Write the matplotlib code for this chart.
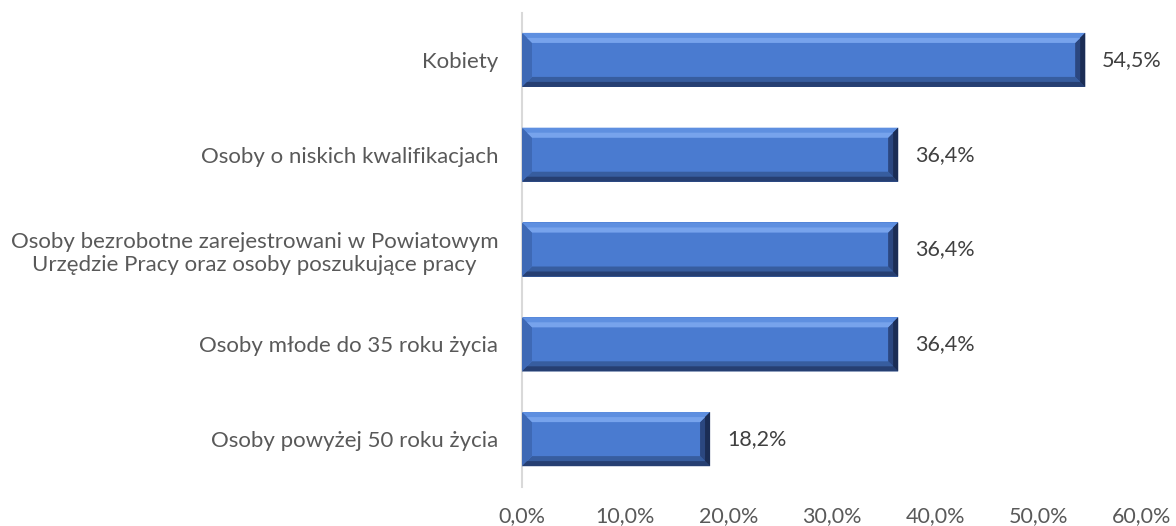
import matplotlib
matplotlib.use("Agg")
import matplotlib.pyplot as plt
from matplotlib.patches import Polygon

categories = [
    "Kobiety",
    "Osoby o niskich kwalifikacjach",
    "Osoby bezrobotne zarejestrowani w Powiatowym\nUrzędzie Pracy oraz osoby poszukujące pracy",
    "Osoby młode do 35 roku życia",
    "Osoby powyżej 50 roku życia",
]
values = [54.5, 36.4, 36.4, 36.4, 18.2]
xticks = [0, 10, 20, 30, 40, 50, 60]

plt.rcParams['font.family'] = ['Lato', 'DejaVu Sans']
W, H = 1176, 526
fig = plt.figure(figsize=(W / 100, H / 100), dpi=100)
left, right, top, bottom = 522, 1142, 12.5, 486.5
ax = fig.add_axes([left / W, (H - bottom) / H, (right - left) / W, (bottom - top) / H])

n = len(categories)
ypos = list(range(n - 1, -1, -1))
bh = 0.57
face = "#4a7bd0"
ax.barh(ypos, values, height=bh, color=face, edgecolor="none", zorder=2)

ax.set_xlim(0, 60)
ax.set_ylim(-0.5, n - 0.5)
dxp = 60 / (right - left)
dyp = n / (bottom - top)


def trap(pts, color, z=3):
    ax.add_patch(Polygon(pts, closed=True, facecolor=color, edgecolor="none", zorder=z))


for y, v in zip(ypos, values):
    y0, y1 = y - bh / 2, y + bh / 2
    x0, x1 = 0, v
    bx, by = 10 * dxp, 10 * dyp
    hx, hy = 5 * dxp, 5 * dyp
    # top bevel (light, two tones)
    trap([(x0, y1), (x1, y1), (x1 - bx, y1 - by), (x0 + bx, y1 - by)], "#5e8fe0")
    trap([(x0 + hx, y1 - hy), (x1 - hx, y1 - hy), (x1 - bx, y1 - by), (x0 + bx, y1 - by)], "#77a3ec", 3.1)
    # bottom bevel (dark, two tones)
    trap([(x0, y0), (x1, y0), (x1 - bx, y0 + by), (x0 + bx, y0 + by)], "#375d9f")
    trap([(x0, y0), (x1, y0), (x1 - hx, y0 + hy), (x0 + hx, y0 + hy)], "#263f72", 3.1)
    # left bevel
    trap([(x0, y0), (x0, y1), (x0 + bx, y1 - by), (x0 + bx, y0 + by)], "#3e69b5")
    # right bevel (darkest)
    trap([(x1, y0), (x1, y1), (x1 - bx, y1 - by), (x1 - bx, y0 + by)], "#2b4780")
    trap([(x1, y0), (x1, y1), (x1 - hx, y1 - hy), (x1 - hx, y0 + hy)], "#1b2d55", 3.1)
    ax.annotate(f"{v:.1f}%".replace(".", ","), xy=(v, y), xytext=(17, 0),
                textcoords="offset pixels",
                va="center", ha="left", fontsize=15.5, color="#404040")

ax.set_yticks(ypos)
ax.set_yticklabels(categories, fontsize=16, color="#595959")
ax.set_xticks(xticks)
ax.set_xticklabels([f"{t:.1f}%".replace(".", ",") for t in xticks], fontsize=15.5, color="#595959")
ax.tick_params(axis="both", length=0)
ax.tick_params(axis="x", pad=14)
ax.tick_params(axis="y", pad=17)
for lbl in ax.get_yticklabels():
    lbl.set_multialignment("center")

for s in ["top", "right", "bottom"]:
    ax.spines[s].set_visible(False)
ax.spines["left"].set_color("#d9d9d9")
ax.spines["left"].set_linewidth(1.5)

fig.savefig("out.png", dpi=100, facecolor="white")
